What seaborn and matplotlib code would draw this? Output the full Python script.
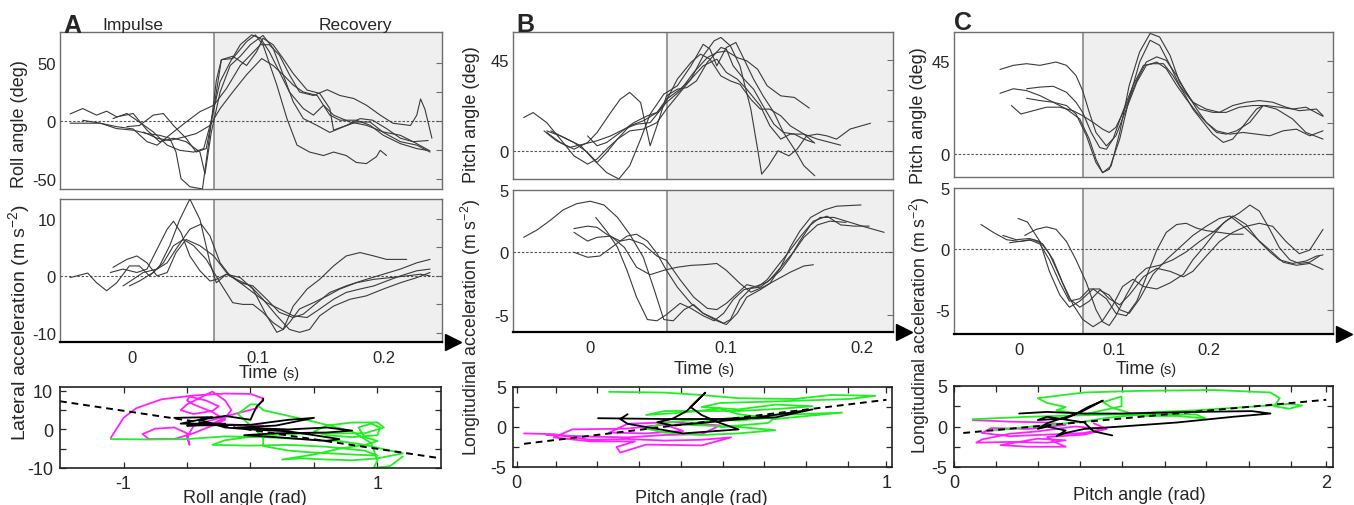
import matplotlib
matplotlib.use("Agg")
import matplotlib.pyplot as plt
import seaborn as sns

# ------------------------------------------------------------------ data
# time at which the impulse phase ends (s)
split_A = 0.065
split_B = 0.0566
split_C = 0.0678

# Panel A top: roll angle (deg) vs time (s)
roll_t = [
    [-0.049, -0.025, -0.012, 0.001, 0.012, 0.022, 0.030, 0.035, 0.039, 0.046, 0.056, 0.062, 0.067, 0.071, 0.080, 0.091, 0.098, 0.104, 0.115, 0.123, 0.131, 0.141, 0.152, 0.160, 0.170, 0.178, 0.186, 0.194, 0.197, 0.202],
    [-0.049, -0.039, -0.028, -0.020, -0.012, 0.001, 0.012, 0.022, 0.033, 0.043, 0.054, 0.058, 0.063, 0.070, 0.078, 0.086, 0.094, 0.104, 0.112, 0.120, 0.128, 0.136, 0.147, 0.157, 0.168, 0.178, 0.189, 0.1995, 0.213, 0.226, 0.2365],
    [-0.039, -0.025, -0.012, 0.001, 0.012, 0.020, 0.033, 0.043, 0.054, 0.065, 0.075, 0.086, 0.094, 0.102, 0.109, 0.117, 0.125, 0.133, 0.144, 0.155, 0.165, 0.176, 0.186, 0.197, 0.207, 0.221, 0.226, 0.229, 0.2325, 0.238],
    [-0.004, 0.006, 0.017, 0.025, 0.033, 0.043, 0.051, 0.059, 0.065, 0.071, 0.080, 0.091, 0.099, 0.104, 0.112, 0.120, 0.128, 0.139, 0.149, 0.157, 0.160, 0.170, 0.181, 0.191, 0.202, 0.213, 0.223, 0.2365],
    [0.009, 0.020, 0.030, 0.041, 0.051, 0.062, 0.070, 0.080, 0.091, 0.103, 0.112, 0.120, 0.128, 0.136, 0.147, 0.157, 0.165, 0.178, 0.189, 0.1995, 0.213, 0.226, 0.234],
    [-0.015, -0.004, 0.006, 0.017, 0.028, 0.038, 0.049, 0.057, 0.062, 0.070, 0.078, 0.086, 0.095, 0.102, 0.109, 0.117, 0.125, 0.136, 0.144, 0.152, 0.160, 0.173, 0.186, 0.1995, 0.213, 0.223, 0.235],
]
roll_v = [
    [-2, -2, -6.7, -8, -11, -12.5, -15, -27, -50, -57, -59, -10, 35, 53, 54, 68.7, 74.5, 66, 31, 2, -21, -27, -30, -27, -30, -36, -37, -31, -25.5, -30],
    [6, 10.7, 5, 8.4, 3.5, 6.4, -8, -18, -15, -18, -27, -46, -10, 25, 48, 56, 66, 74, 63, 40, 16.5, 2, -4, -10, -5, -1, -1, -10, -18, -21, -27],
    [0.5, -2, -5, -7, -18, -21, -9.6, -1, 8, 13.6, 28, 48, 57, 66, 66, 57, 40, 25, 22, 27, 22, 19.4, 13.6, 5, -2, -4, 5, 19, 10, -15],
    [-5, -4, 5, 6.4, -4, -15, -27, -24, 10.7, 53, 56, 48, 60, 71.6, 66, 54, 41, 26.7, 23.8, 10.7, -8, -4, 2, 0.6, -6.7, -15, -18, -26],
    [-9.6, -15, -17, -14, -11, -4, 10.7, 25, 40, 54, 48, 40, 31, 25, 22, 5, 0.6, 0.6, -3.8, -12.5, -19.7, -24, -25.5],
    [2, 6.4, -1, -9.6, -21, -25.5, -27, -24, -3.8, 34, 51, 66, 74.5, 71.6, 60, 42.6, 25, 10.7, 5, 13.6, 5, -1, -3.8, -9.6, -12.5, -18, -17],
]

# Panel A middle: lateral acceleration (m s-2) vs time (s)
lat_t = [
    [-0.049, -0.035, -0.028, -0.020, -0.012, -0.002, 0.006, 0.014, 0.022, 0.030, 0.038, 0.046, 0.054, 0.062, 0.067, 0.075, 0.086, 0.096, 0.107, 0.115, 0.120, 0.128, 0.139, 0.149, 0.160, 0.170, 0.181, 0.192, 0.202, 0.218],
    [-0.017, -0.007, 0.004, 0.012, 0.020, 0.028, 0.033, 0.039, 0.046, 0.054, 0.062, 0.067, 0.075, 0.083, 0.094, 0.104, 0.115, 0.125, 0.133, 0.141, 0.149, 0.160, 0.173, 0.186, 0.1995, 0.213, 0.226, 0.2365],
    [-0.007, 0.001, 0.009, 0.020, 0.028, 0.035, 0.046, 0.055, 0.062, 0.070, 0.078, 0.086, 0.096, 0.107, 0.117, 0.128, 0.136, 0.147, 0.157, 0.170, 0.186, 0.1995, 0.213, 0.226, 0.2365],
    [-0.015, -0.004, 0.004, 0.012, 0.020, 0.028, 0.035, 0.043, 0.054, 0.065, 0.075, 0.086, 0.096, 0.107, 0.117, 0.128, 0.139, 0.149, 0.160, 0.170, 0.181, 0.192, 0.202, 0.213, 0.226, 0.2365],
    [-0.002, 0.006, 0.017, 0.025, 0.033, 0.041, 0.049, 0.059, 0.070, 0.080, 0.088, 0.096, 0.104, 0.112, 0.120, 0.125, 0.133, 0.144, 0.155, 0.165, 0.178, 0.192, 0.205, 0.218, 0.229, 0.2365],
]
lat_v = [
    [-0.3, 0.5, -1.2, -2.6, -1.2, 1.75, 1.75, 0, 1.75, 5.3, 9.9, 13.5, 9.9, 2.3, -1.2, 0.3, -0.3, -2.3, -7.0, -9.9, -9.4, -5.3, -2.3, -0.6, 1.75, 3.5, 4.1, 3.5, 2.9, 2.9],
    [0.6, 1.2, 0.6, 1.2, 4.7, 8.2, 9.6, 7.6, 3.5, 0.9, -0.9, -0.6, 0.3, -0.6, -1.75, -4.1, -7.0, -9.4, -9.9, -9.4, -7.0, -5.3, -4.1, -3.5, -2.3, -1.2, -0.3, 0.6],
    [-1.75, -0.6, 0.6, 1.2, 2.3, 4.7, 8.2, 9.1, 7.0, 2.3, 0, -1.2, -1.75, -4.1, -6.4, -7.3, -6.7, -4.7, -2.9, -1.75, -0.6, 0.3, 1.2, 2.3, 2.9],
    [1.5, 2.9, 3.5, 2.3, 0, 0.6, 4.1, 6.4, 5.3, 3.5, 0.6, -1.2, -2.9, -4.7, -5.8, -7.0, -7.3, -5.8, -4.1, -2.9, -2.3, -1.75, -0.9, 0, 0.9, 1.2],
    [-1.75, -0.9, 0.6, 2.3, 5.3, 6.4, 5.3, 2.9, -1.2, -4.7, -5.0, -5.0, -6.4, -8.2, -9.4, -8.2, -5.8, -4.7, -3.5, -2.3, -1.2, -0.6, -0.3, 0, 0.3, 0],
]

# Panel B top: pitch angle (deg) vs time (s)
pitchB_t = [
    [-0.049, -0.042, -0.032, -0.022, -0.012, -0.002, 0.005, 0.012, 0.020, 0.029, 0.039, 0.049, 0.056, 0.064, 0.074, 0.083, 0.093, 0.100, 0.108, 0.115, 0.125, 0.132, 0.140, 0.147, 0.157, 0.165],
    [-0.032, -0.022, -0.012, -0.002, 0.005, 0.012, 0.020, 0.029, 0.039, 0.049, 0.056, 0.066, 0.074, 0.083, 0.091, 0.096, 0.103, 0.110, 0.118, 0.123, 0.126, 0.131, 0.138, 0.146, 0.152, 0.159, 0.167, 0.174, 0.181, 0.191, 0.206],
    [-0.029, -0.017, -0.007, 0.002, 0.012, 0.021, 0.029, 0.037, 0.044, 0.054, 0.064, 0.074, 0.083, 0.088, 0.093, 0.100, 0.107, 0.113, 0.120, 0.127, 0.135, 0.142, 0.150, 0.157, 0.165],
    [-0.032, -0.022, -0.012, -0.002, 0.005, 0.015, 0.022, 0.029, 0.037, 0.044, 0.049, 0.056, 0.064, 0.071, 0.078, 0.086, 0.096, 0.100, 0.105, 0.113, 0.120, 0.127, 0.135, 0.142, 0.150, 0.157, 0.164],
    [-0.002, 0.005, 0.012, 0.022, 0.032, 0.042, 0.049, 0.056, 0.066, 0.076, 0.086, 0.093, 0.100, 0.108, 0.115, 0.123, 0.130, 0.140, 0.150, 0.161],
    [-0.034, -0.025, -0.015, -0.005, 0.005, 0.015, 0.025, 0.034, 0.044, 0.054, 0.064, 0.074, 0.081, 0.088, 0.096, 0.103, 0.110, 0.118, 0.125, 0.132, 0.140, 0.147, 0.157, 0.167, 0.184],
]
pitchB_v = [
    [16.5, 19, 14, 5.8, -2.5, -6.6, -4.1, 0.8, 5.8, 9.9, 10.8, 14, 20.7, 27.3, 35.6, 42.2, 45.5, 38.9, 35.6, 30.6, 22.3, 12.4, 5.8, 8.3, 8.3, 3.8],
    [9.9, 7.4, 4.1, -0.8, -5.8, -0.8, 5.8, 12.4, 14.9, 19, 25.6, 30.6, 35.6, 47.2, 54.6, 56.3, 52.1, 42.2, 20.7, 0.8, -11.6, -7.4, 0, -2.5, 0.8, 7.4, 8.3, 7.4, 5.8, 10.8, 13.7],
    [9.9, 5.8, 2.5, -4.1, -10.8, -14, -7.4, 5.8, 18.2, 28.1, 32.3, 42.2, 52.9, 50.5, 42.2, 51.3, 53.8, 45.5, 35.6, 27.3, 19, 9.1, 0.8, -7.4, -12.4],
    [9.1, 4.1, 0.8, 4.1, 9.1, 19, 25.6, 29, 24, 2.5, 12.4, 27.3, 30.6, 31.4, 34.7, 43.9, 51.3, 50.5, 42.2, 35.6, 30.6, 22.3, 13.2, 9.1, 8.3, 5.8, 4.1],
    [7.4, 2.5, 4.1, 9.1, 14, 17.4, 19, 24, 29.8, 38.9, 46.3, 48.8, 49.6, 46.3, 44.7, 40.5, 32.3, 27.3, 26.5, 21.2],
    [9.9, 5, 1.7, 3.3, 5, 7.4, 10.8, 13.2, 14, 22.3, 35.6, 43.9, 48, 45.5, 37.2, 34.7, 33, 25.6, 20.7, 20.7, 17.4, 12.4, 8.3, 5.8, 2.8],
]

# Panel B middle: longitudinal acceleration (m s-2) vs time (s)
longB_t = [
    [-0.049, -0.039, -0.029, -0.020, -0.010, 0.0, 0.010, 0.020, 0.029, 0.039, 0.047, 0.054, 0.061, 0.069, 0.076, 0.083, 0.093, 0.100, 0.108, 0.115, 0.125, 0.132, 0.140, 0.147, 0.154, 0.162, 0.172, 0.181, 0.199],
    [-0.012, -0.002, 0.005, 0.012, 0.022, 0.029, 0.039, 0.049, 0.056, 0.066, 0.076, 0.086, 0.093, 0.100, 0.108, 0.115, 0.123, 0.130, 0.137, 0.145, 0.154, 0.164, 0.174, 0.184, 0.194, 0.205],
    [-0.012, -0.002, 0.005, 0.015, 0.025, 0.034, 0.044, 0.054, 0.064, 0.074, 0.083, 0.093, 0.100, 0.110, 0.118, 0.127, 0.137, 0.147, 0.157, 0.164],
    [-0.012, -0.002, 0.007, 0.017, 0.027, 0.034, 0.042, 0.049, 0.056, 0.064, 0.074, 0.083, 0.091, 0.098, 0.103, 0.110, 0.118, 0.125, 0.132, 0.140, 0.150, 0.157, 0.167, 0.176, 0.188],
    [0.004, 0.012, 0.020, 0.027, 0.034, 0.042, 0.049, 0.056, 0.066, 0.074, 0.083, 0.091, 0.098, 0.105, 0.113, 0.120, 0.130, 0.140, 0.147, 0.154, 0.162, 0.169, 0.179, 0.191, 0.203, 0.216],
]
longB_v = [
    [1.2, 1.8, 2.6, 3.4, 3.9, 4.1, 3.8, 2.8, 1.45, -0.4, -3.0, -5.4, -5.5, -4.6, -4.2, -4.9, -5.5, -5.8, -4.9, -3.6, -3.0, -2.5, -1.2, 0.4, 1.7, 2.8, 3.4, 3.7, 3.8],
    [1.9, 2.1, 2.0, 1.45, 0.9, 1.05, 0.65, -0.3, -0.65, -2.2, -3.6, -4.5, -4.6, -4.1, -3.3, -2.6, -2.8, -2.2, -1.2, -0.1, 1.2, 2.5, 2.9, 2.2, 2.1, 2.1],
    [1.6, 0.9, 1.2, 1.3, 0.4, -1.2, -1.8, -1.45, -1.2, -1.05, -1.0, -0.9, -1.45, -2.5, -3.2, -2.8, -2.2, -1.6, -1.1, -1.0],
    [0, -0.4, -0.3, 0.5, 1.3, 1.45, 0.9, -0.1, -1.45, -2.8, -4.1, -4.9, -5.3, -5.7, -5.4, -3.8, -2.9, -2.8, -2.2, -1.2, 0.1, 1.2, 2.2, 2.5, 2.4],
    [2.8, 1.7, 0.4, -1.45, -3.6, -5.4, -5.5, -5.0, -4.1, -4.5, -5.1, -5.5, -4.9, -3.8, -3.0, -2.8, -2.4, -1.45, -0.4, 0.9, 2.2, 2.8, 2.8, 2.4, 2.0, 1.6],
]

# Panel C top: pitch angle (deg) vs time (s)
pitchC_t = [
    [-0.020, -0.006, 0.008, 0.022, 0.039, 0.050, 0.060, 0.067, 0.074, 0.081, 0.092, 0.102, 0.113, 0.124, 0.134, 0.145, 0.155, 0.166, 0.176, 0.187, 0.197, 0.208, 0.218, 0.229, 0.243, 0.257, 0.271, 0.288, 0.302, 0.320],
    [-0.020, -0.006, 0.008, 0.022, 0.036, 0.050, 0.064, 0.074, 0.081, 0.088, 0.095, 0.106, 0.116, 0.127, 0.138, 0.148, 0.159, 0.169, 0.180, 0.190, 0.204, 0.218, 0.232, 0.246, 0.260, 0.274, 0.288, 0.302, 0.320],
    [0.008, 0.022, 0.036, 0.050, 0.060, 0.067, 0.076, 0.085, 0.092, 0.099, 0.109, 0.120, 0.131, 0.141, 0.152, 0.162, 0.173, 0.183, 0.194, 0.204, 0.215, 0.225, 0.239, 0.250, 0.257],
    [0.008, 0.022, 0.036, 0.050, 0.060, 0.071, 0.081, 0.088, 0.097, 0.106, 0.116, 0.127, 0.138, 0.148, 0.159, 0.169, 0.183, 0.197, 0.211, 0.225, 0.239, 0.253, 0.267, 0.281, 0.295, 0.313, 0.320],
    [-0.008, 0.002, 0.015, 0.029, 0.043, 0.057, 0.067, 0.078, 0.088, 0.095, 0.102, 0.113, 0.124, 0.134, 0.145, 0.155, 0.166, 0.176, 0.187, 0.197, 0.208, 0.222, 0.236, 0.250, 0.264, 0.278, 0.292, 0.306, 0.320],
]
pitchC_v = [
    [40.9, 42.9, 43.7, 42.9, 44.5, 42.9, 38, 30.7, 20.2, 10.5, 4.0, 8.9, 21.8, 34.8, 42.9, 44.5, 41.3, 33.2, 26.7, 20.2, 15.4, 10.5, 9.7, 11.3, 15.4, 23.5, 21.8, 17, 10.5, 7.3],
    [29.4, 31.6, 30.7, 28.3, 25.1, 21.8, 17, 7.3, -2.4, -8.9, -7.3, 7.3, 26.7, 44.5, 55, 52.6, 42.9, 33.2, 26.7, 21.8, 20.2, 20.2, 22.7, 23.5, 23.5, 22.7, 21.8, 22.7, 18.3],
    [31.6, 32.4, 32.8, 29.9, 25.1, 20.2, 10.5, 3.2, 2.4, 7.3, 20.2, 33.2, 42.9, 43.7, 43.7, 38, 29.9, 21.8, 15.4, 9.7, 5.7, 7.3, 15.4, 21.8, 23.5],
    [27, 25.9, 25.1, 23.5, 19.4, 8.9, -4.0, -8.9, -5.7, 10.5, 33.2, 49.4, 58.3, 56.6, 47.7, 34.8, 25.1, 21.8, 20.2, 23.5, 25.1, 25.9, 25.1, 22.7, 21, 21.8, 18.6],
    [23.5, 19.4, 21, 22.7, 22.7, 21, 18.6, 15.4, 12.1, 10.5, 13, 23.5, 35.6, 44.5, 47, 45.3, 38, 29.9, 21.8, 15.4, 11.3, 9.7, 10.5, 9.7, 8.9, 11.3, 12.1, 8.9, 11.3],
]

# Panel C middle: longitudinal acceleration (m s-2) vs time (s)
longC_t = [
    [-0.040, -0.027, -0.013, 0.001, 0.015, 0.025, 0.036, 0.046, 0.057, 0.067, 0.078, 0.088, 0.099, 0.109, 0.120, 0.131, 0.145, 0.159, 0.173, 0.183, 0.194, 0.204, 0.215, 0.225, 0.239, 0.253, 0.264, 0.274, 0.288, 0.302, 0.313, 0.320],
    [-0.017, -0.003, 0.011, 0.022, 0.032, 0.043, 0.053, 0.064, 0.074, 0.085, 0.095, 0.106, 0.116, 0.127, 0.141, 0.155, 0.169, 0.183, 0.197, 0.211, 0.222, 0.236, 0.250, 0.264, 0.278, 0.292, 0.306, 0.320],
    [-0.001, 0.009, 0.022, 0.032, 0.043, 0.053, 0.064, 0.078, 0.092, 0.102, 0.113, 0.124, 0.134, 0.145, 0.155, 0.166, 0.176, 0.187, 0.197, 0.211, 0.225, 0.236],
    [0.006, 0.018, 0.029, 0.039, 0.050, 0.060, 0.071, 0.081, 0.088, 0.095, 0.102, 0.113, 0.124, 0.134, 0.148, 0.162, 0.176, 0.190, 0.204, 0.218, 0.232, 0.243, 0.253, 0.264, 0.274, 0.285, 0.295, 0.306, 0.316],
    [-0.010, 0.000, 0.011, 0.022, 0.032, 0.043, 0.053, 0.064, 0.074, 0.085, 0.095, 0.106, 0.116, 0.131, 0.145, 0.159, 0.173, 0.183, 0.197, 0.211, 0.225, 0.239, 0.253, 0.267, 0.281, 0.295, 0.306, 0.320],
]
longC_v = [
    [2.0, 1.35, 0.75, 0.6, 0.75, 0.4, -0.9, -2.8, -4.6, -5.8, -6.4, -5.9, -4.6, -3.1, -2.5, -3.1, -3.3, -2.8, -2.1, -0.9, 0.1, 1.1, 2.1, 2.7, 2.0, 0.6, -0.25, -0.9, -1.2, -1.0, -0.6, -0.5],
    [1.1, 0.75, 0.85, 0.6, -0.4, -2.3, -4.1, -4.8, -4.3, -3.4, -3.8, -5.0, -5.3, -4.1, -2.1, -0.9, 0.1, 1.1, 1.85, 2.5, 2.7, 1.85, 0.85, -0.1, -1.1, -1.35, -1.2, -1.7],
    [2.5, 2.2, 0.6, -1.85, -3.8, -4.8, -4.3, -3.3, -4.1, -5.3, -5.5, -4.3, -2.3, -0.1, 1.35, 2.0, 2.1, 1.7, 1.5, 1.35, 1.2, 1.2],
    [1.1, 1.6, 1.8, 1.6, 0.6, -0.9, -2.8, -5.0, -6.0, -6.3, -5.5, -3.8, -2.3, -1.6, -1.35, -0.9, -0.25, 0.6, 1.35, 2.3, 2.95, 3.6, 3.1, 1.6, 0.1, -0.9, -1.2, -1.1, -0.6],
    [0.5, 0.6, 0.75, 0.4, -0.9, -2.8, -4.3, -4.1, -3.3, -3.3, -4.1, -4.6, -3.8, -2.3, -1.6, -1.85, -2.3, -1.85, -0.6, 0.6, 1.35, 1.85, 2.1, 1.85, 0.6, -0.4, -0.1, 1.6],
]

# Bottom row: phase plots (angle in rad, acceleration in m s-2)
phaseA_magenta_x = [-1.1, -1.0, -0.9, -0.7, -0.45, -0.2, 0.0, 0.1, 0.05, -0.15, -0.35, -0.45, -0.5, -0.48, -0.5, -0.6, -0.75, -0.85, -0.8, -0.6, -0.45, -0.3, -0.2, -0.3, -0.45, -0.5, -0.48, -0.35, -0.25, -0.3, -0.45, -0.55, -0.5, -0.3, -0.2, -0.15, -0.2, -0.3, -0.1, 0.1]
phaseA_magenta_y = [-2.2, 3.0, 5.5, 7.8, 8.8, 9.3, 9.2, 8.0, 5.5, 3.8, 2.0, 0.8, -2.0, -4.0, -1.0, 0.5, 0.2, -1.2, -2.5, -2.5, -1.0, 1.0, 2.5, 4.5, 6.5, 7.5, 8.5, 7.5, 6.0, 4.8, 4.0, 5.0, 6.5, 9.8, 7.5, 5.0, 3.0, 1.5, 1.2, 1.0]
phaseA_green_x = [-1.1, -0.8, -0.5, -0.2, 0.1, 0.4, 0.7, 0.9, 1.1, 1.2, 1.0, 0.8, 0.6, 0.4, 0.25, 0.5, 0.7, 0.9, 1.0, 0.9, 0.85, 0.95, 1.02, 1.0, 0.8, 0.6, 0.5, 0.6, 0.8, 1.0, 1.05, 0.9, 0.5, 0.1, -0.2, -0.3, 0.0, 0.3, 0.6, 0.9, 1.0, 0.8, 0.5, 0.3, 0.1, 0.1, 0.0, -0.1, 0.0, 0.05, 0.1, 0.3, 0.5, 0.8, 0.95, 1.0, 0.97, 1.1, 1.2]
phaseA_green_y = [-2.5, -2.6, -2.5, -1.8, -2.0, -2.5, -3.0, -4.0, -5.5, -6.2, -7.5, -8.0, -7.8, -7.5, -7.8, -6.5, -5.0, -4.0, -3.0, -2.0, 0.5, 1.5, 0.5, -1.5, -2.0, -1.5, -0.5, 1.0, 1.8, 1.8, 0.5, -1.0, -1.0, -1.5, -2.8, -4.0, -4.2, -4.0, -4.5, -5.5, -6.8, -6.5, -6.0, -5.5, -4.3, -2.0, 1.0, 4.0, 6.5, 6.5, 5.0, 3.5, 2.0, -0.5, -3.5, -8.0, -10.0, -9.5, -7.0]
phaseA_black_x = [-0.6, -0.3, -0.55, -0.2, -0.5, 0.0, 0.3, 0.5, 0.2, -0.1, 0.3, 0.6, 0.8, 0.6, 0.2, -0.05, 0.2, 0.6, 0.7, 0.5, 0.3, 0.0, -0.2, -0.4, -0.2, 0.0, 0.02, 0.05, 0.1, 0.1]
phaseA_black_y = [3.0, 3.2, 1.5, 1.5, 1.0, 1.2, 2.5, 3.0, 1.0, 0.5, 0.0, 0.5, -0.3, -0.8, -1.0, -1.5, -2.0, -3.0, -2.5, -1.5, -0.5, 0.0, 0.5, 2.5, 3.5, 2.5, 4.0, 6.0, 7.5, 8.0]
phaseA_fit_x = [-1.5, 1.5]
phaseA_fit_y = [7.3, -7.5]

phaseB_magenta_x = [0.02, 0.1, 0.2, 0.3, 0.4, 0.5, 0.58, 0.5, 0.35, 0.28, 0.27, 0.32, 0.2, 0.1, 0.15, 0.3, 0.4, 0.45, 0.35, 0.25, 0.3, 0.42, 0.55, 0.5, 0.4, 0.3, 0.2, 0.08]
phaseB_magenta_y = [-0.8, -0.9, -1.6, -1.5, -1.7, -1.6, -1.3, -2.3, -2.2, -3.2, -2.5, -1.8, -1.8, -1.3, -0.3, -0.2, 0.3, -0.5, -0.8, -0.7, 0.4, 0.6, 0.2, -0.9, -1.0, -1.3, -1.2, -1.0]
phaseB_green_x = [0.25, 0.4, 0.5, 0.6, 0.75, 0.85, 0.97, 0.9, 0.7, 0.55, 0.5, 0.6, 0.7, 0.8, 0.72, 0.6, 0.4, 0.35, 0.45, 0.55, 0.6, 0.7, 0.88, 0.7, 0.55, 0.5, 0.45, 0.6, 0.7, 0.6, 0.5, 0.4, 0.35, 0.4, 0.5, 0.6, 0.7, 0.68, 0.55]
phaseB_green_y = [4.4, 4.3, 4.0, 3.6, 3.5, 4.0, 3.9, 3.5, 3.2, 3.0, 2.5, 2.2, 2.8, 2.6, 2.3, 2.0, 2.0, 1.5, 1.8, 2.3, 1.6, 1.0, 1.8, 1.5, 1.0, 0.6, 0.3, 0.0, -0.4, -0.8, -1.0, -0.7, -0.2, 0.5, 1.0, 0.8, 1.2, 0.5, 0.0]
phaseB_black_x = [0.22, 0.4, 0.55, 0.7, 0.8, 0.65, 0.5, 0.42, 0.38, 0.42, 0.46, 0.51, 0.47, 0.5, 0.55, 0.6, 0.45, 0.35, 0.3, 0.28, 0.3]
phaseB_black_y = [1.1, 1.0, 1.0, 1.2, 2.2, 1.2, 0.5, 0.2, 0.6, 1.0, 2.0, 4.3, 2.5, 1.5, 0.5, -0.3, -0.8, 0.0, 0.4, 1.0, 1.6]
phaseB_fit_x = [0.02, 1.0]
phaseB_fit_y = [-2.1, 3.4]

phaseC_magenta_x = [0.1, 0.3, 0.5, 0.6, 0.4, 0.2, 0.15, 0.3, 0.5, 0.7, 0.8, 0.65, 0.45, 0.3, 0.15, 0.12, 0.3, 0.5, 0.6, 0.45, 0.25, 0.4, 0.6, 0.55, 0.5, 0.7, 0.82, 0.75]
phaseC_magenta_y = [0.8, 0.6, 0.5, 0.2, -0.3, -0.2, -0.8, -1.2, -1.0, -0.8, -0.3, 0.0, -0.6, -0.9, -1.6, -2.0, -1.9, -2.0, -1.7, -1.5, -2.3, -2.5, -2.5, -2.0, -1.3, -1.0, -0.3, 0.4]
phaseC_green_x = [0.1, 0.4, 0.7, 0.9, 1.1, 1.3, 1.5, 1.7, 1.8, 1.87, 1.8, 1.72, 1.75, 1.7, 1.4, 1.0, 0.7, 0.45, 0.5, 0.6, 0.55, 0.7, 0.9, 0.9, 0.8, 0.85, 1.0, 1.2, 1.35, 1.3, 1.0, 0.8, 0.7, 0.5, 0.3, 0.2]
phaseC_green_y = [0.9, 1.2, 1.4, 1.5, 1.8, 2.0, 2.3, 2.6, 2.8, 2.6, 2.2, 2.5, 3.5, 4.2, 4.5, 4.4, 4.2, 3.5, 2.9, 2.4, 2.0, 1.5, 2.5, 3.7, 3.0, 2.3, 1.3, 1.3, 1.0, 1.5, 1.5, 1.0, 0.6, 0.2, -0.3, -0.5]
phaseC_black_x = [0.35, 0.5, 0.7, 0.9, 1.1, 1.3, 1.6, 1.7, 1.5, 1.2, 0.9, 0.7, 0.6, 0.55, 0.6, 0.5, 0.45, 0.5, 0.55, 0.65, 0.72, 0.8, 0.7, 0.6, 0.45, 0.5, 0.7, 0.75, 0.85]
phaseC_black_y = [1.6, 1.8, 1.6, 1.6, 1.7, 1.8, 1.9, 1.6, 1.2, 0.5, 0.0, -0.3, -0.8, -1.2, -0.5, 0.0, -0.3, 0.4, 0.8, 1.5, 2.4, 3.2, 2.0, 1.0, 0.8, 1.2, 0.5, -0.6, -1.1]
phaseC_fit_x = [0.05, 2.0]
phaseC_fit_y = [-0.8, 3.3]

# ------------------------------------------------------------------ style
sns.set_style("white")
plt.rcParams["font.family"] = ["Liberation Sans", "DejaVu Sans"]
plt.rcParams["mathtext.fontset"] = "custom"
plt.rcParams["mathtext.rm"] = "Liberation Sans"
plt.rcParams["mathtext.default"] = "regular"

W, H = 1354, 506
fig = plt.figure(figsize=(W / 100, H / 100), dpi=100)
fig.patch.set_facecolor("white")


def rect(l, t, r, b):
    return [l / W, 1 - b / H, (r - l) / W, (b - t) / H]


FRAME = "#6e6e6e"
TRACE = "#3a3a3a"
MAGENTA = "#ff22ff"
GREEN = "#22ee22"


def time_panel(box, ts, vs, xlim, ylim, split, yticks, ylabels, xticks=None):
    ax = fig.add_axes(rect(*box))
    ax.axvspan(split, xlim[1], color="#efefef", zorder=0, lw=0)
    ax.axvline(split, color="#808080", lw=1.1, zorder=1)
    ax.axhline(0, color="#555555", lw=0.8, ls=(0, (2.2, 1.6)), zorder=1)
    for t, v in zip(ts, vs):
        sns.lineplot(x=t, y=v, ax=ax, sort=False, estimator=None,
                     color=TRACE, lw=0.8, zorder=3)
    ax.set_xlim(xlim)
    ax.set_ylim(ylim)
    ax.set_yticks(yticks)
    ax.set_yticklabels(ylabels)
    ax.tick_params(axis="y", left=False, right=True, direction="in",
                   length=4, width=0.8, color=FRAME, labelsize=12, pad=3)
    for s in ax.spines.values():
        s.set_color(FRAME)
        s.set_linewidth(1.0)
    if xticks is None:
        ax.set_xticks([])
    else:
        ax.set_xticks(xticks)
        ax.set_xticklabels(["0", "0.1", "0.2"])
        ax.tick_params(axis="x", bottom=False, labelsize=12, pad=2)
        ax.spines["bottom"].set_color("black")
        ax.spines["bottom"].set_linewidth(1.6)
        ax.plot([1.028], [0], marker=">", markersize=12, color="black",
                transform=ax.transAxes, clip_on=False)
    ax.set_xlabel("")
    ax.set_ylabel("")
    return ax


def phase_panel(box, loops, fitx, fity, xlim, ylim, xmaj, xlabs, xminor):
    ax = fig.add_axes(rect(*box))
    for x, y, c in loops:
        sns.lineplot(x=x, y=y, ax=ax, sort=False, estimator=None,
                     color=c, lw=1.3)
    sns.lineplot(x=fitx, y=fity, ax=ax, sort=False, estimator=None,
                 color="black", lw=1.4)
    ax.lines[-1].set_dashes([3.5, 2.5])
    ax.set_xlim(xlim)
    ax.set_ylim(ylim)
    ax.set_xticks(xmaj)
    ax.set_xticklabels(xlabs)
    ax.set_xticks(xminor, minor=True)
    ax.tick_params(which="both", direction="in", top=True, right=True,
                   bottom=True, left=True, length=4, width=0.9,
                   labelsize=13, pad=5)
    for s in ax.spines.values():
        s.set_color("#222222")
        s.set_linewidth(1.2)
    ax.set_xlabel("")
    ax.set_ylabel("")
    return ax


# ---------------- column A
time_panel((60, 33, 442, 190), roll_t, roll_v, (-0.057, 0.246), (-59, 77),
           split_A, [-50, -25, 0, 25, 50], ["-50", "", "0", "", "50"])
time_panel((60, 200, 442, 343), lat_t, lat_v, (-0.057, 0.246), (-11.6, 13.5),
           split_A, [-10, -5, 0, 5, 10], ["-10", "", "0", "", "10"],
           xticks=[0, 0.1, 0.2])
axA = phase_panel((60, 388, 441, 469),
                  [(phaseA_magenta_x, phaseA_magenta_y, MAGENTA),
                   (phaseA_green_x, phaseA_green_y, GREEN),
                   (phaseA_black_x, phaseA_black_y, "black")],
                  phaseA_fit_x, phaseA_fit_y, (-1.5, 1.5), (-10, 11),
                  [-1, 1], ["-1", "1"], [-0.5, 0, 0.5])
axA.set_yticks([-10, -5, 0, 5, 10])
axA.set_yticklabels(["-10", "", "0", "", "10"])

# ---------------- column B
time_panel((513, 33, 893, 180), pitchB_t, pitchB_v, (-0.0568, 0.2225), (-14, 59),
           split_B, [0, 15, 30, 45], ["0", "", "", "45"])
time_panel((513, 191, 893, 333), longB_t, longB_v, (-0.0568, 0.2225), (-6.4, 5),
           split_B, [-5, 0, 5], ["-5", "0", "5"], xticks=[0, 0.1, 0.2])
axB = phase_panel((513, 388, 892, 468),
                  [(phaseB_magenta_x, phaseB_magenta_y, MAGENTA),
                   (phaseB_green_x, phaseB_green_y, GREEN),
                   (phaseB_black_x, phaseB_black_y, "black")],
                  phaseB_fit_x, phaseB_fit_y, (-0.01, 1.015), (-5, 5),
                  [0, 1], ["0", "1"],
                  [0.105, 0.218, 0.331, 0.444, 0.557, 0.67, 0.783, 0.896])
axB.set_yticks([-5, -2.5, 0, 2.5, 5])
axB.set_yticklabels(["-5", "", "0", "", "5"])

# ---------------- column C
time_panel((954, 33, 1333, 178), pitchC_t, pitchC_v, (-0.0684, 0.3305), (-11, 59),
           split_C, [0, 15, 30, 45], ["0", "", "", "45"])
time_panel((954, 189, 1333, 335), longC_t, longC_v, (-0.0684, 0.3305), (-7.0, 5),
           split_C, [-5, 0, 5], ["-5", "0", "5"], xticks=[0, 0.1, 0.2])
axC = phase_panel((954, 387, 1333, 468),
                  [(phaseC_magenta_x, phaseC_magenta_y, MAGENTA),
                   (phaseC_green_x, phaseC_green_y, GREEN),
                   (phaseC_black_x, phaseC_black_y, "black")],
                  phaseC_fit_x, phaseC_fit_y, (0, 2.036), (-5, 5),
                  [0, 2], ["0", "2"],
                  [0.227, 0.451, 0.675, 0.904, 1.132, 1.355, 1.585, 1.812])
axC.set_yticks([-5, -2.5, 0, 2.5, 5])
axC.set_yticklabels(["-5", "", "0", "", "5"])


# ---------------- texts
def ftext(x, y, s, **kw):
    fig.text(x / W, 1 - y / H, s, **kw)


ftext(72, 33, "A", fontsize=18, fontweight="bold", ha="center", va="baseline")
ftext(525, 32, "B", fontsize=18, fontweight="bold", ha="center", va="baseline")
ftext(963, 30, "C", fontsize=18, fontweight="bold", ha="center", va="baseline")
ftext(133, 30, "Impulse", fontsize=12.5, ha="center", va="baseline")
ftext(355, 30, "Recovery", fontsize=12.5, ha="center", va="baseline")

acc = "acceleration (m s$^{-2}$)"
ftext(20, 124, "Roll angle (deg)", fontsize=13, rotation=90, ha="center", va="center")
ftext(19, 322, "Lateral " + acc, fontsize=14, rotation=90, ha="center", va="center")
ftext(471, 115, "Pitch angle (deg)", fontsize=13, rotation=90, ha="center", va="center")
ftext(471, 327, "Longitudinal " + acc, fontsize=12.8, rotation=90, ha="center", va="center")
ftext(919, 116, "Pitch angle (deg)", fontsize=13, rotation=90, ha="center", va="center")
ftext(920, 325, "Longitudinal " + acc, fontsize=12.8, rotation=90, ha="center", va="center")

for xr, y in [(278, 378), (713, 374), (1155, 374)]:
    ftext(xr, y, "Time", fontsize=13, ha="right", va="baseline")
    ftext(xr + 4, y, "(s)", fontsize=10.5, ha="left", va="baseline")

ftext(245, 503, "Roll angle (rad)", fontsize=13, ha="center", va="baseline")
ftext(701, 503, "Pitch angle (rad)", fontsize=13, ha="center", va="baseline")
ftext(1139, 500, "Pitch angle (rad)", fontsize=13, ha="center", va="baseline")

fig.savefig("out.png", dpi=100, facecolor="white")
